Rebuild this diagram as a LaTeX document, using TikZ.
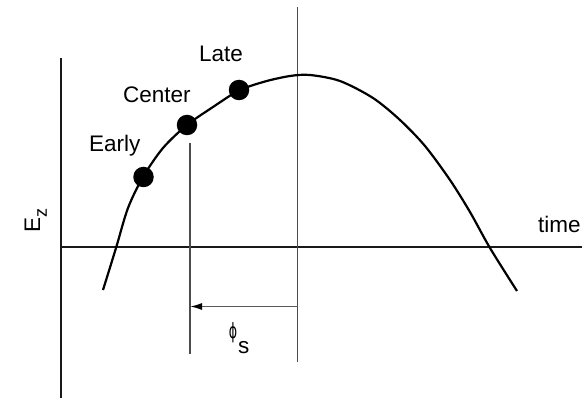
\documentclass[tikz,border=0pt]{standalone}
\usepackage{fontspec}
\setmainfont{Liberation Sans}
\newfontfamily\symfont{DejaVu Sans}
\usetikzlibrary{arrows.meta}
\begin{document}
\begin{tikzpicture}[x=1pt,y=-1pt,
  lbl/.style={inner sep=0pt,anchor=base west,font=\fontsize{22.5}{26}\selectfont},
  dot/.style={circle,fill=black,minimum size=20.5pt,inner sep=0pt},
  axis/.style={line width=2pt,draw=black!90},
  marker/.style={line width=1.2pt,draw=black!70},
  curve/.style={line width=2.2pt}]
\useasboundingbox (0,0) rectangle (582,398);
% axes
\coordinate (yt) at (60.5,58);
\coordinate (yb) at (60.5,398);
\coordinate (xl) at (60.5,247.5);
\coordinate (xr) at (582,247.5);
\draw[axis] (yt) -- (yb);
\draw[axis] (xl) -- (xr);
% marker lines
\coordinate (ct) at (190,143);
\coordinate (cb) at (190,354);
\coordinate (pt) at (297.5,7);
\coordinate (pb) at (297.5,362);
\draw[marker] (ct) -- (cb);
\draw[marker] (pt) -- (pb);
% arrow
\coordinate (as) at (297.5,306.5);
\coordinate (ae) at (190,306.5);
\draw[line width=1.5pt,draw=black!65,-{Latex[length=12pt,width=7pt,color=black]}] (as) -- (ae);
% curve
\draw[curve] plot[smooth,tension=0.5] coordinates {(103,290) (116,248) (128,208) (143,177) (163,148) (187,125) (213,107) (239,90.5) (265,81.5) (290,76) (310,75) (340,81) (373,98) (400,120) (425,146) (450,180) (470,212) (490,248) (517,291)};
% dots
\node[dot] (early) at (143.5,177) {};
\node[dot] (center) at (187,125) {};
\node[dot] (late) at (239,90) {};
% labels
\node[lbl] (learly) at (89,152) {Early};
\node[lbl] (lcenter) at (123,103) {Center};
\node[lbl] (llate) at (199,62) {Late};
\node[lbl] (ltime) at (538,233) {time};
\node[lbl,rotate=90] (lez) at (40,233) {E\raisebox{-0.3em}{\fontsize{18}{20}\selectfont z}};
\node[inner sep=0pt,font=\fontsize{21}{24}\symfont] (lphi) at (233,332.5) {\scalebox{0.6}[1]{ϕ}};
\node[lbl] (ls) at (238,354) {s};
\end{tikzpicture}
\end{document}
